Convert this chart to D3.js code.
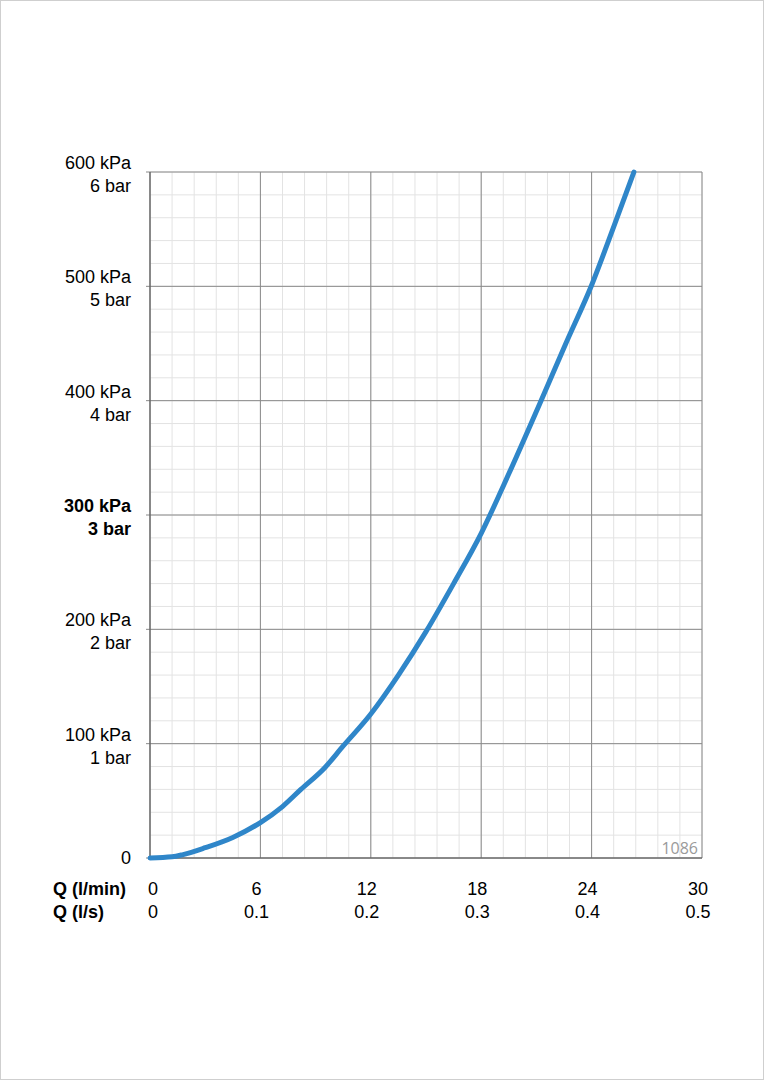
<!DOCTYPE html>
<html><head><meta charset="utf-8">
<script src="https://cdn.jsdelivr.net/npm/d3@7"></script>
<style>body{margin:0;background:#fff}svg{display:block}</style>
</head><body><svg id="c" width="764" height="1080"></svg>
<script>
const flowLpm = [0, 1.2, 1.8, 3, 4.5, 6, 7.2, 8.2, 9.5, 10.5, 12, 13.5, 15, 16.5, 18, 19.5, 21.2, 22.6, 24, 25.2, 26.3];
const pressureKpa = [0, 1, 3, 9, 18, 31, 45, 60, 79, 98, 126, 160, 198, 240, 284, 336, 398, 450, 501, 552, 600];
const xTicksLpm = [0, 6, 12, 18, 24, 30];
const xTicksLs = ["0", "0.1", "0.2", "0.3", "0.4", "0.5"];
const yTicks = [0, 100, 200, 300, 400, 500, 600];
const yLabels1 = ["0", "100 kPa", "200 kPa", "300 kPa", "400 kPa", "500 kPa", "600 kPa"];
const yLabels2 = ["", "1 bar", "2 bar", "3 bar", "4 bar", "5 bar", "6 bar"];

const svg = d3.select("#c");
svg.append("rect").attr("x",0.5).attr("y",0.5).attr("width",763).attr("height",1079).attr("fill","#fff").attr("stroke","#cfcfcf");
const x = d3.scaleLinear().domain([0,30]).range([150,702]);
const y = d3.scaleLinear().domain([0,600]).range([858,172]);
const g = svg.append("g");
d3.range(0,30.01,1.2).forEach(v=>g.append("line").attr("x1",x(v)).attr("x2",x(v)).attr("y1",y(0)).attr("y2",y(600)).attr("stroke","#e3e3e3").attr("stroke-width",1));
d3.range(0,600.1,20).forEach(v=>g.append("line").attr("x1",x(0)).attr("x2",x(30)).attr("y1",y(v)).attr("y2",y(v)).attr("stroke","#e3e3e3").attr("stroke-width",1));
xTicksLpm.forEach(v=>g.append("line").attr("x1",x(v)).attr("x2",x(v)).attr("y1",y(0)).attr("y2",y(600)).attr("stroke","#8a8a8a"));
yTicks.forEach(v=>g.append("line").attr("x1",x(0)-4).attr("x2",x(30)).attr("y1",y(v)).attr("y2",y(v)).attr("stroke","#8a8a8a"));
g.append("line").attr("x1",x(0)).attr("x2",x(0)).attr("y1",y(0)).attr("y2",y(600)).attr("stroke","#555");
g.append("line").attr("x1",x(0)).attr("x2",x(30)).attr("y1",y(0)).attr("y2",y(0)).attr("stroke","#555");
const pts = flowLpm.map((f,i)=>[x(f),y(pressureKpa[i])]);
svg.append("path").attr("d",d3.line().curve(d3.curveMonotoneX)(pts)).attr("fill","none").attr("stroke","#2f86c9").attr("stroke-width",5).attr("stroke-linecap","round").attr("stroke-linejoin","round");
const F="Liberation Sans, Arial, sans-serif";
const FS=18;
yTicks.forEach((v,i)=>{
  const bold = v===300 ? "bold" : "normal";
  if (v===0) { svg.append("text").attr("x",131).attr("y",y(v)+6).attr("text-anchor","end").attr("font-family",F).attr("font-size",FS).text(yLabels1[i]); return; }
  svg.append("text").attr("x",131).attr("y",y(v)-3).attr("text-anchor","end").attr("font-family",F).attr("font-size",FS).attr("font-weight",bold).text(yLabels1[i]);
  svg.append("text").attr("x",131).attr("y",y(v)+20).attr("text-anchor","end").attr("font-family",F).attr("font-size",FS).attr("font-weight",bold).text(yLabels2[i]);
});
xTicksLpm.forEach((v,i)=>{
  const px = i===0 ? x(v)+3 : x(v)-4;
  svg.append("text").attr("x",px).attr("y",895).attr("text-anchor","middle").attr("font-family",F).attr("font-size",FS).text(v);
  svg.append("text").attr("x",px).attr("y",918).attr("text-anchor","middle").attr("font-family",F).attr("font-size",FS).text(xTicksLs[i]);
});
svg.append("text").attr("x",53).attr("y",895).attr("font-family",F).attr("font-size",FS).attr("font-weight","bold").text("Q (l/min)");
svg.append("text").attr("x",53).attr("y",918).attr("font-family",F).attr("font-size",FS).attr("font-weight","bold").text("Q (l/s)");
svg.append("text").attr("x",698).attr("y",854).attr("text-anchor","end").attr("font-family","Open Sans, sans-serif").attr("font-size",16).attr("fill","#9a9a9a").text("1086");
</script></body></html>
